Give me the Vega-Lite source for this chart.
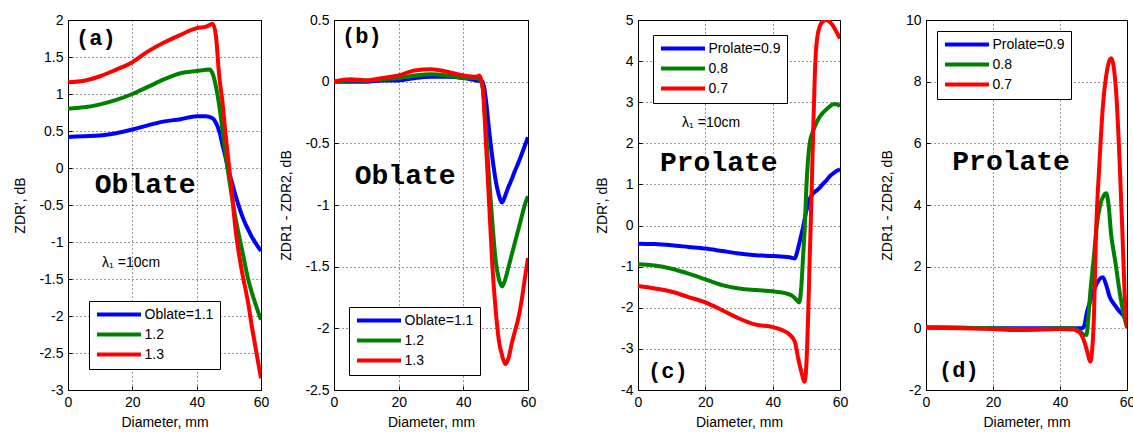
{
  "$schema": "https://vega.github.io/schema/vega-lite/v6.json",
  "background": "white",
  "autosize": {"type": "pad"},
  "padding": {"left": 13, "top": 12, "right": 0, "bottom": 0},
  "datasets": {
    "a": [
      {"D":0,"v":0.42,"s":"Oblate=1.1"},{"D":5,"v":0.43,"s":"Oblate=1.1"},{"D":10,"v":0.44,"s":"Oblate=1.1"},{"D":15,"v":0.47,"s":"Oblate=1.1"},{"D":20,"v":0.52,"s":"Oblate=1.1"},{"D":25,"v":0.58,"s":"Oblate=1.1"},{"D":30,"v":0.63,"s":"Oblate=1.1"},{"D":35,"v":0.66,"s":"Oblate=1.1"},{"D":40,"v":0.7,"s":"Oblate=1.1"},{"D":43,"v":0.7,"s":"Oblate=1.1"},{"D":45,"v":0.67,"s":"Oblate=1.1"},{"D":46,"v":0.61,"s":"Oblate=1.1"},{"D":47,"v":0.5,"s":"Oblate=1.1"},{"D":48,"v":0.32,"s":"Oblate=1.1"},{"D":49,"v":0.14,"s":"Oblate=1.1"},{"D":50,"v":-0.05,"s":"Oblate=1.1"},{"D":51,"v":-0.2,"s":"Oblate=1.1"},{"D":52,"v":-0.36,"s":"Oblate=1.1"},{"D":53,"v":-0.5,"s":"Oblate=1.1"},{"D":54,"v":-0.63,"s":"Oblate=1.1"},{"D":55,"v":-0.74,"s":"Oblate=1.1"},{"D":56,"v":-0.83,"s":"Oblate=1.1"},{"D":57,"v":-0.92,"s":"Oblate=1.1"},{"D":58,"v":-0.99,"s":"Oblate=1.1"},{"D":59,"v":-1.06,"s":"Oblate=1.1"},{"D":60,"v":-1.12,"s":"Oblate=1.1"},
      {"D":0,"v":0.8,"s":"1.2"},{"D":5,"v":0.82,"s":"1.2"},{"D":10,"v":0.86,"s":"1.2"},{"D":15,"v":0.92,"s":"1.2"},{"D":20,"v":1.0,"s":"1.2"},{"D":25,"v":1.1,"s":"1.2"},{"D":30,"v":1.2,"s":"1.2"},{"D":35,"v":1.28,"s":"1.2"},{"D":40,"v":1.31,"s":"1.2"},{"D":44,"v":1.33,"s":"1.2"},{"D":45,"v":1.27,"s":"1.2"},{"D":46,"v":1.1,"s":"1.2"},{"D":47,"v":0.85,"s":"1.2"},{"D":48,"v":0.52,"s":"1.2"},{"D":49,"v":0.18,"s":"1.2"},{"D":50,"v":-0.12,"s":"1.2"},{"D":51,"v":-0.4,"s":"1.2"},{"D":52,"v":-0.66,"s":"1.2"},{"D":53,"v":-0.88,"s":"1.2"},{"D":54,"v":-1.08,"s":"1.2"},{"D":55,"v":-1.3,"s":"1.2"},{"D":56,"v":-1.5,"s":"1.2"},{"D":57,"v":-1.66,"s":"1.2"},{"D":58,"v":-1.8,"s":"1.2"},{"D":59,"v":-1.93,"s":"1.2"},{"D":60,"v":-2.05,"s":"1.2"},
      {"D":0,"v":1.16,"s":"1.3"},{"D":5,"v":1.18,"s":"1.3"},{"D":10,"v":1.24,"s":"1.3"},{"D":15,"v":1.33,"s":"1.3"},{"D":20,"v":1.43,"s":"1.3"},{"D":25,"v":1.58,"s":"1.3"},{"D":30,"v":1.7,"s":"1.3"},{"D":35,"v":1.8,"s":"1.3"},{"D":40,"v":1.89,"s":"1.3"},{"D":43,"v":1.91,"s":"1.3"},{"D":45,"v":1.95,"s":"1.3"},{"D":46,"v":1.78,"s":"1.3"},{"D":47,"v":1.25,"s":"1.3"},{"D":48,"v":0.9,"s":"1.3"},{"D":49,"v":0.45,"s":"1.3"},{"D":50,"v":0.05,"s":"1.3"},{"D":51,"v":-0.36,"s":"1.3"},{"D":52,"v":-0.8,"s":"1.3"},{"D":53,"v":-1.12,"s":"1.3"},{"D":54,"v":-1.38,"s":"1.3"},{"D":55,"v":-1.6,"s":"1.3"},{"D":56,"v":-1.82,"s":"1.3"},{"D":57,"v":-2.1,"s":"1.3"},{"D":58,"v":-2.35,"s":"1.3"},{"D":59,"v":-2.6,"s":"1.3"},{"D":60,"v":-2.84,"s":"1.3"}
    ],
    "b": [
      {"D":0,"v":0.0,"s":"Oblate=1.1"},{"D":5,"v":0.0,"s":"Oblate=1.1"},{"D":10,"v":0.0,"s":"Oblate=1.1"},{"D":15,"v":0.01,"s":"Oblate=1.1"},{"D":20,"v":0.01,"s":"Oblate=1.1"},{"D":25,"v":0.03,"s":"Oblate=1.1"},{"D":30,"v":0.04,"s":"Oblate=1.1"},{"D":35,"v":0.04,"s":"Oblate=1.1"},{"D":40,"v":0.03,"s":"Oblate=1.1"},{"D":44,"v":0.01,"s":"Oblate=1.1"},{"D":46,"v":0.0,"s":"Oblate=1.1"},{"D":47,"v":-0.15,"s":"Oblate=1.1"},{"D":48,"v":-0.4,"s":"Oblate=1.1"},{"D":49,"v":-0.62,"s":"Oblate=1.1"},{"D":50,"v":-0.8,"s":"Oblate=1.1"},{"D":51,"v":-0.92,"s":"Oblate=1.1"},{"D":52,"v":-0.98,"s":"Oblate=1.1"},{"D":53,"v":-0.92,"s":"Oblate=1.1"},{"D":54,"v":-0.85,"s":"Oblate=1.1"},{"D":55,"v":-0.79,"s":"Oblate=1.1"},{"D":56,"v":-0.72,"s":"Oblate=1.1"},{"D":57,"v":-0.66,"s":"Oblate=1.1"},{"D":58,"v":-0.59,"s":"Oblate=1.1"},{"D":59,"v":-0.52,"s":"Oblate=1.1"},{"D":60,"v":-0.45,"s":"Oblate=1.1"},
      {"D":0,"v":0.0,"s":"1.2"},{"D":5,"v":0.01,"s":"1.2"},{"D":10,"v":0.01,"s":"1.2"},{"D":15,"v":0.02,"s":"1.2"},{"D":20,"v":0.03,"s":"1.2"},{"D":25,"v":0.05,"s":"1.2"},{"D":30,"v":0.06,"s":"1.2"},{"D":35,"v":0.05,"s":"1.2"},{"D":40,"v":0.03,"s":"1.2"},{"D":44,"v":0.03,"s":"1.2"},{"D":45,"v":0.02,"s":"1.2"},{"D":46,"v":-0.05,"s":"1.2"},{"D":47,"v":-0.4,"s":"1.2"},{"D":48,"v":-0.8,"s":"1.2"},{"D":49,"v":-1.15,"s":"1.2"},{"D":50,"v":-1.45,"s":"1.2"},{"D":51,"v":-1.6,"s":"1.2"},{"D":52,"v":-1.66,"s":"1.2"},{"D":53,"v":-1.6,"s":"1.2"},{"D":54,"v":-1.5,"s":"1.2"},{"D":55,"v":-1.4,"s":"1.2"},{"D":56,"v":-1.3,"s":"1.2"},{"D":57,"v":-1.2,"s":"1.2"},{"D":58,"v":-1.1,"s":"1.2"},{"D":59,"v":-1.0,"s":"1.2"},{"D":60,"v":-0.93,"s":"1.2"},
      {"D":0,"v":0.0,"s":"1.3"},{"D":5,"v":0.02,"s":"1.3"},{"D":10,"v":0.01,"s":"1.3"},{"D":15,"v":0.03,"s":"1.3"},{"D":20,"v":0.05,"s":"1.3"},{"D":25,"v":0.09,"s":"1.3"},{"D":30,"v":0.1,"s":"1.3"},{"D":35,"v":0.08,"s":"1.3"},{"D":40,"v":0.05,"s":"1.3"},{"D":44,"v":0.04,"s":"1.3"},{"D":45,"v":0.05,"s":"1.3"},{"D":46,"v":-0.05,"s":"1.3"},{"D":47,"v":-0.5,"s":"1.3"},{"D":48,"v":-1.0,"s":"1.3"},{"D":49,"v":-1.5,"s":"1.3"},{"D":50,"v":-1.85,"s":"1.3"},{"D":51,"v":-2.1,"s":"1.3"},{"D":52,"v":-2.22,"s":"1.3"},{"D":53,"v":-2.29,"s":"1.3"},{"D":54,"v":-2.24,"s":"1.3"},{"D":55,"v":-2.12,"s":"1.3"},{"D":56,"v":-2.02,"s":"1.3"},{"D":57,"v":-1.92,"s":"1.3"},{"D":58,"v":-1.78,"s":"1.3"},{"D":59,"v":-1.6,"s":"1.3"},{"D":60,"v":-1.43,"s":"1.3"}
    ],
    "c": [
      {"D":0,"v":-0.44,"s":"Prolate=0.9"},{"D":5,"v":-0.45,"s":"Prolate=0.9"},{"D":10,"v":-0.48,"s":"Prolate=0.9"},{"D":15,"v":-0.52,"s":"Prolate=0.9"},{"D":20,"v":-0.56,"s":"Prolate=0.9"},{"D":25,"v":-0.62,"s":"Prolate=0.9"},{"D":30,"v":-0.68,"s":"Prolate=0.9"},{"D":35,"v":-0.72,"s":"Prolate=0.9"},{"D":40,"v":-0.74,"s":"Prolate=0.9"},{"D":45,"v":-0.77,"s":"Prolate=0.9"},{"D":46.6,"v":-0.8,"s":"Prolate=0.9"},{"D":47,"v":-0.72,"s":"Prolate=0.9"},{"D":48,"v":-0.4,"s":"Prolate=0.9"},{"D":49,"v":-0.05,"s":"Prolate=0.9"},{"D":50,"v":0.35,"s":"Prolate=0.9"},{"D":51,"v":0.65,"s":"Prolate=0.9"},{"D":52,"v":0.78,"s":"Prolate=0.9"},{"D":53,"v":0.85,"s":"Prolate=0.9"},{"D":54,"v":0.92,"s":"Prolate=0.9"},{"D":55,"v":1.02,"s":"Prolate=0.9"},{"D":56,"v":1.1,"s":"Prolate=0.9"},{"D":57,"v":1.2,"s":"Prolate=0.9"},{"D":58,"v":1.27,"s":"Prolate=0.9"},{"D":59,"v":1.33,"s":"Prolate=0.9"},{"D":60,"v":1.37,"s":"Prolate=0.9"},
      {"D":0,"v":-0.94,"s":"0.8"},{"D":5,"v":-0.97,"s":"0.8"},{"D":10,"v":-1.05,"s":"0.8"},{"D":15,"v":-1.17,"s":"0.8"},{"D":20,"v":-1.31,"s":"0.8"},{"D":25,"v":-1.45,"s":"0.8"},{"D":30,"v":-1.53,"s":"0.8"},{"D":35,"v":-1.57,"s":"0.8"},{"D":40,"v":-1.6,"s":"0.8"},{"D":44,"v":-1.65,"s":"0.8"},{"D":46,"v":-1.72,"s":"0.8"},{"D":47,"v":-1.8,"s":"0.8"},{"D":47.9,"v":-1.87,"s":"0.8"},{"D":48.5,"v":-1.5,"s":"0.8"},{"D":49,"v":-0.8,"s":"0.8"},{"D":49.5,"v":-0.1,"s":"0.8"},{"D":50,"v":0.9,"s":"0.8"},{"D":50.5,"v":1.6,"s":"0.8"},{"D":51,"v":2.0,"s":"0.8"},{"D":52,"v":2.3,"s":"0.8"},{"D":53,"v":2.5,"s":"0.8"},{"D":54,"v":2.65,"s":"0.8"},{"D":55,"v":2.75,"s":"0.8"},{"D":56,"v":2.83,"s":"0.8"},{"D":57,"v":2.9,"s":"0.8"},{"D":58,"v":2.95,"s":"0.8"},{"D":59,"v":2.95,"s":"0.8"},{"D":60,"v":2.9,"s":"0.8"},
      {"D":0,"v":-1.47,"s":"0.7"},{"D":5,"v":-1.53,"s":"0.7"},{"D":10,"v":-1.61,"s":"0.7"},{"D":15,"v":-1.74,"s":"0.7"},{"D":20,"v":-1.87,"s":"0.7"},{"D":25,"v":-2.06,"s":"0.7"},{"D":30,"v":-2.26,"s":"0.7"},{"D":35,"v":-2.41,"s":"0.7"},{"D":40,"v":-2.47,"s":"0.7"},{"D":43,"v":-2.55,"s":"0.7"},{"D":45,"v":-2.65,"s":"0.7"},{"D":46.6,"v":-2.83,"s":"0.7"},{"D":47.6,"v":-3.24,"s":"0.7"},{"D":48.5,"v":-3.55,"s":"0.7"},{"D":49.5,"v":-3.8,"s":"0.7"},{"D":50,"v":-3.4,"s":"0.7"},{"D":50.5,"v":-2.3,"s":"0.7"},{"D":51,"v":-0.8,"s":"0.7"},{"D":51.5,"v":0.6,"s":"0.7"},{"D":52,"v":2.2,"s":"0.7"},{"D":52.5,"v":3.6,"s":"0.7"},{"D":53,"v":4.4,"s":"0.7"},{"D":54,"v":4.85,"s":"0.7"},{"D":55,"v":4.97,"s":"0.7"},{"D":56,"v":5.0,"s":"0.7"},{"D":57,"v":4.95,"s":"0.7"},{"D":58,"v":4.85,"s":"0.7"},{"D":59,"v":4.7,"s":"0.7"},{"D":60,"v":4.55,"s":"0.7"}
    ],
    "d": [
      {"D":0,"v":0.03,"s":"Prolate=0.9"},{"D":10,"v":0.02,"s":"Prolate=0.9"},{"D":20,"v":0.0,"s":"Prolate=0.9"},{"D":30,"v":0.0,"s":"Prolate=0.9"},{"D":40,"v":0.0,"s":"Prolate=0.9"},{"D":46.5,"v":0.0,"s":"Prolate=0.9"},{"D":47.3,"v":0.1,"s":"Prolate=0.9"},{"D":48,"v":0.5,"s":"Prolate=0.9"},{"D":48.5,"v":0.7,"s":"Prolate=0.9"},{"D":50,"v":1.2,"s":"Prolate=0.9"},{"D":51,"v":1.45,"s":"Prolate=0.9"},{"D":52,"v":1.62,"s":"Prolate=0.9"},{"D":52.8,"v":1.66,"s":"Prolate=0.9"},{"D":53.8,"v":1.4,"s":"Prolate=0.9"},{"D":54.8,"v":1.03,"s":"Prolate=0.9"},{"D":56.3,"v":0.76,"s":"Prolate=0.9"},{"D":57.8,"v":0.54,"s":"Prolate=0.9"},{"D":58.8,"v":0.43,"s":"Prolate=0.9"},{"D":60,"v":0.2,"s":"Prolate=0.9"},
      {"D":0,"v":0.03,"s":"0.8"},{"D":10,"v":0.02,"s":"0.8"},{"D":20,"v":0.0,"s":"0.8"},{"D":30,"v":-0.02,"s":"0.8"},{"D":40,"v":0.0,"s":"0.8"},{"D":44,"v":0.0,"s":"0.8"},{"D":45,"v":-0.05,"s":"0.8"},{"D":46,"v":-0.1,"s":"0.8"},{"D":47,"v":-0.2,"s":"0.8"},{"D":47.9,"v":-0.22,"s":"0.8"},{"D":48.5,"v":0.4,"s":"0.8"},{"D":49,"v":1.1,"s":"0.8"},{"D":50,"v":2.2,"s":"0.8"},{"D":51,"v":3.35,"s":"0.8"},{"D":52,"v":4.0,"s":"0.8"},{"D":53,"v":4.3,"s":"0.8"},{"D":53.8,"v":4.38,"s":"0.8"},{"D":54.5,"v":4.0,"s":"0.8"},{"D":55.3,"v":3.0,"s":"0.8"},{"D":56,"v":2.5,"s":"0.8"},{"D":56.8,"v":1.95,"s":"0.8"},{"D":57.5,"v":1.4,"s":"0.8"},{"D":58.3,"v":0.86,"s":"0.8"},{"D":59.3,"v":0.32,"s":"0.8"},{"D":60,"v":0.05,"s":"0.8"},
      {"D":0,"v":0.02,"s":"0.7"},{"D":10,"v":0.0,"s":"0.7"},{"D":20,"v":-0.02,"s":"0.7"},{"D":25,"v":-0.05,"s":"0.7"},{"D":30,"v":-0.05,"s":"0.7"},{"D":35,"v":-0.04,"s":"0.7"},{"D":40,"v":-0.02,"s":"0.7"},{"D":44,"v":-0.04,"s":"0.7"},{"D":45,"v":-0.08,"s":"0.7"},{"D":46,"v":-0.15,"s":"0.7"},{"D":47,"v":-0.35,"s":"0.7"},{"D":48,"v":-0.7,"s":"0.7"},{"D":49.1,"v":-1.08,"s":"0.7"},{"D":49.6,"v":-0.7,"s":"0.7"},{"D":50,"v":0.0,"s":"0.7"},{"D":50.8,"v":3.2,"s":"0.7"},{"D":51.8,"v":5.4,"s":"0.7"},{"D":52.8,"v":7.2,"s":"0.7"},{"D":53.8,"v":8.2,"s":"0.7"},{"D":54.5,"v":8.6,"s":"0.7"},{"D":55.3,"v":8.76,"s":"0.7"},{"D":56,"v":8.5,"s":"0.7"},{"D":56.8,"v":7.6,"s":"0.7"},{"D":57.8,"v":5.4,"s":"0.7"},{"D":58.6,"v":3.2,"s":"0.7"},{"D":59.3,"v":1.1,"s":"0.7"},{"D":60,"v":0.0,"s":"0.7"}
    ],
    "ta": [{"D":2.5,"v":1.76,"t":"(a)","k":"tag"},{"D":24,"v":-0.34,"t":"Oblate","k":"word"},{"D":10.6,"v":-1.34,"t":"λ₁ =10cm","k":"lam"}],
    "tb": [{"D":2.5,"v":0.37,"t":"(b)","k":"tag"},{"D":22,"v":-0.83,"t":"Oblate","k":"word"}],
    "tc": [{"D":3.0,"v":-3.54,"t":"(c)","k":"tag"},{"D":24,"v":1.33,"t":"Prolate","k":"word"},{"D":13.1,"v":2.4,"t":"λ₁ =10cm","k":"lam"}],
    "td": [{"D":3.9,"v":-1.35,"t":"(d)","k":"tag"},{"D":25.4,"v":5.13,"t":"Prolate","k":"word"}]
  },
  "hconcat": [
    {
      "width": 193, "height": 370,
      "view": {"stroke": "#000"},
      "layer": [
        {"data": {"name": "a"},
         "mark": {"type": "line", "strokeWidth": 4, "interpolate": "monotone", "clip": true},
         "encoding": {
           "x": {"field": "D", "type": "quantitative", "scale": {"domain": [0, 60], "nice": false}, "axis": {"title": "Diameter, mm", "values": [0, 20, 40, 60], "tickCount": 20}},
           "y": {"field": "v", "type": "quantitative", "scale": {"domain": [-3, 2], "nice": false, "zero": false}, "axis": {"title": "ZDR', dB", "values": [-3, -2.5, -2, -1.5, -1, -0.5, 0, 0.5, 1, 1.5, 2], "tickCount": 20, "labelExpr": "toString(datum.value)"}},
           "color": {"field": "s", "type": "nominal", "scale": {"domain": ["Oblate=1.1", "1.2", "1.3"], "range": ["#0000ff", "#008000", "#ff0000"]}, "legend": {"orient": "bottom-left", "offset": 21}}
         }},
        {"data": {"name": "ta"}, "transform": [{"filter": "datum.k == 'tag'"}],
         "mark": {"type": "text", "font": "Liberation Mono", "fontWeight": "bold", "fontSize": 22, "align": "left", "baseline": "middle", "color": "#000"},
         "encoding": {"x": {"field": "D", "type": "quantitative"}, "y": {"field": "v", "type": "quantitative"}, "text": {"field": "t"}}},
        {"data": {"name": "ta"}, "transform": [{"filter": "datum.k == 'word'"}],
         "mark": {"type": "text", "font": "Liberation Mono", "fontWeight": "bold", "fontSize": 28, "align": "center", "baseline": "alphabetic", "color": "#000"},
         "encoding": {"x": {"field": "D", "type": "quantitative"}, "y": {"field": "v", "type": "quantitative"}, "text": {"field": "t"}}},
        {"data": {"name": "ta"}, "transform": [{"filter": "datum.k == 'lam'"}],
         "mark": {"type": "text", "font": "Liberation Sans", "fontSize": 14, "align": "left", "baseline": "alphabetic", "color": "#000"},
         "encoding": {"x": {"field": "D", "type": "quantitative"}, "y": {"field": "v", "type": "quantitative"}, "text": {"field": "t"}}}
      ]
    },
    {"width": 73, "height": 10, "data": {"values": []}, "mark": "point", "view": {"stroke": null}},
    {
      "width": 194, "height": 370,
      "view": {"stroke": "#000"},
      "layer": [
        {"data": {"name": "b"},
         "mark": {"type": "line", "strokeWidth": 4, "interpolate": "monotone", "clip": true},
         "encoding": {
           "x": {"field": "D", "type": "quantitative", "scale": {"domain": [0, 60], "nice": false}, "axis": {"title": "Diameter, mm", "values": [0, 20, 40, 60], "tickCount": 20}},
           "y": {"field": "v", "type": "quantitative", "scale": {"domain": [-2.5, 0.5], "nice": false, "zero": false}, "axis": {"title": "ZDR1 - ZDR2, dB", "values": [-2.5, -2, -1.5, -1, -0.5, 0, 0.5], "tickCount": 20, "labelExpr": "toString(datum.value)"}},
           "color": {"field": "s", "type": "nominal", "scale": {"domain": ["Oblate=1.1", "1.2", "1.3"], "range": ["#0000ff", "#008000", "#ff0000"]}, "legend": {"orient": "bottom-left", "offset": 15}}
         }},
        {"data": {"name": "tb"}, "transform": [{"filter": "datum.k == 'tag'"}],
         "mark": {"type": "text", "font": "Liberation Mono", "fontWeight": "bold", "fontSize": 22, "align": "left", "baseline": "middle", "color": "#000"},
         "encoding": {"x": {"field": "D", "type": "quantitative"}, "y": {"field": "v", "type": "quantitative"}, "text": {"field": "t"}}},
        {"data": {"name": "tb"}, "transform": [{"filter": "datum.k == 'word'"}],
         "mark": {"type": "text", "font": "Liberation Mono", "fontWeight": "bold", "fontSize": 28, "align": "center", "baseline": "alphabetic", "color": "#000"},
         "encoding": {"x": {"field": "D", "type": "quantitative"}, "y": {"field": "v", "type": "quantitative"}, "text": {"field": "t"}}}
      ]
    },
    {"width": 110, "height": 10, "data": {"values": []}, "mark": "point", "view": {"stroke": null}},
    {
      "width": 202, "height": 370,
      "view": {"stroke": "#000"},
      "layer": [
        {"data": {"name": "c"},
         "mark": {"type": "line", "strokeWidth": 4, "interpolate": "monotone", "clip": true},
         "encoding": {
           "x": {"field": "D", "type": "quantitative", "scale": {"domain": [0, 60], "nice": false}, "axis": {"title": "Diameter, mm", "values": [0, 20, 40, 60], "tickCount": 20}},
           "y": {"field": "v", "type": "quantitative", "scale": {"domain": [-4, 5], "nice": false, "zero": false}, "axis": {"title": "ZDR', dB", "values": [-4, -3, -2, -1, 0, 1, 2, 3, 4, 5], "tickCount": 20, "labelExpr": "toString(datum.value)"}},
           "color": {"field": "s", "type": "nominal", "scale": {"domain": ["Prolate=0.9", "0.8", "0.7"], "range": ["#0000ff", "#008000", "#ff0000"]}, "legend": {"orient": "top-left", "offset": 15}}
         }},
        {"data": {"name": "tc"}, "transform": [{"filter": "datum.k == 'tag'"}],
         "mark": {"type": "text", "font": "Liberation Mono", "fontWeight": "bold", "fontSize": 22, "align": "left", "baseline": "middle", "color": "#000"},
         "encoding": {"x": {"field": "D", "type": "quantitative"}, "y": {"field": "v", "type": "quantitative"}, "text": {"field": "t"}}},
        {"data": {"name": "tc"}, "transform": [{"filter": "datum.k == 'word'"}],
         "mark": {"type": "text", "font": "Liberation Mono", "fontWeight": "bold", "fontSize": 28, "align": "center", "baseline": "alphabetic", "color": "#000"},
         "encoding": {"x": {"field": "D", "type": "quantitative"}, "y": {"field": "v", "type": "quantitative"}, "text": {"field": "t"}}},
        {"data": {"name": "tc"}, "transform": [{"filter": "datum.k == 'lam'"}],
         "mark": {"type": "text", "font": "Liberation Sans", "fontSize": 14, "align": "left", "baseline": "alphabetic", "color": "#000"},
         "encoding": {"x": {"field": "D", "type": "quantitative"}, "y": {"field": "v", "type": "quantitative"}, "text": {"field": "t"}}}
      ]
    },
    {"width": 86, "height": 10, "data": {"values": []}, "mark": "point", "view": {"stroke": null}},
    {
      "width": 201, "height": 370,
      "view": {"stroke": "#000"},
      "layer": [
        {"data": {"name": "d"},
         "mark": {"type": "line", "strokeWidth": 4, "interpolate": "monotone", "clip": true},
         "encoding": {
           "x": {"field": "D", "type": "quantitative", "scale": {"domain": [0, 60], "nice": false}, "axis": {"title": "Diameter, mm", "values": [0, 20, 40, 60], "tickCount": 20}},
           "y": {"field": "v", "type": "quantitative", "scale": {"domain": [-2, 10], "nice": false, "zero": false}, "axis": {"title": "ZDR1 - ZDR2, dB", "values": [-2, 0, 2, 4, 6, 8, 10], "tickCount": 20, "labelExpr": "toString(datum.value)"}},
           "color": {"field": "s", "type": "nominal", "scale": {"domain": ["Prolate=0.9", "0.8", "0.7"], "range": ["#0000ff", "#008000", "#ff0000"]}, "legend": {"orient": "top-left", "offset": 11}}
         }},
        {"data": {"name": "td"}, "transform": [{"filter": "datum.k == 'tag'"}],
         "mark": {"type": "text", "font": "Liberation Mono", "fontWeight": "bold", "fontSize": 22, "align": "left", "baseline": "middle", "color": "#000"},
         "encoding": {"x": {"field": "D", "type": "quantitative"}, "y": {"field": "v", "type": "quantitative"}, "text": {"field": "t"}}},
        {"data": {"name": "td"}, "transform": [{"filter": "datum.k == 'word'"}],
         "mark": {"type": "text", "font": "Liberation Mono", "fontWeight": "bold", "fontSize": 28, "align": "center", "baseline": "alphabetic", "color": "#000"},
         "encoding": {"x": {"field": "D", "type": "quantitative"}, "y": {"field": "v", "type": "quantitative"}, "text": {"field": "t"}}}
      ]
    }
  ],
  "spacing": 0,
  "bounds": "flush",
  "resolve": {"scale": {"color": "independent"}, "legend": {"color": "independent"}},
  "config": {
    "font": "Liberation Sans",
    "axis": {
      "labelFont": "Liberation Sans", "labelFontSize": 14, "labelColor": "#000", "labelFlush": false, "labelOverlap": false, "labelPadding": 9,
      "titleFont": "Liberation Sans", "titleFontSize": 14, "titleFontWeight": "normal", "titleColor": "#000", "titlePadding": 11,
      "grid": true, "gridColor": "#000", "gridDash": [1, 3], "gridOpacity": 0.8, "gridWidth": 1,
      "domain": false, "ticks": true, "tickColor": "#000", "tickSize": -4
    },
    "axisX": {"titlePadding": 6},
    "legend": {
      "title": null, "symbolType": "M-4,0H4", "symbolSize": 121, "symbolStrokeWidth": 4, "symbolOffset": 16.5,
      "labelFont": "Liberation Sans", "labelFontSize": 14, "labelColor": "#000", "labelOffset": 18,
      "strokeColor": "#000", "fillColor": "#fff", "padding": 6, "cornerRadius": 0, "rowPadding": 3
    }
  }
}
